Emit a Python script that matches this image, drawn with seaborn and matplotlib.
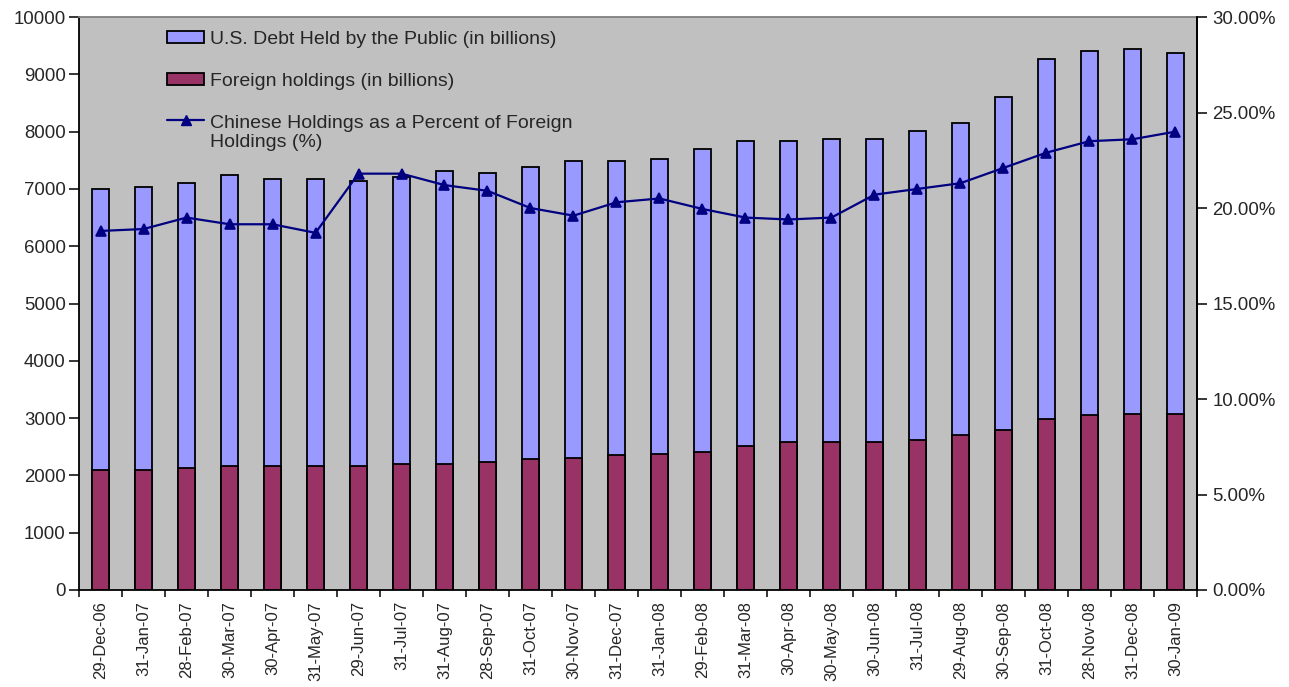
import matplotlib
matplotlib.use("Agg")
import matplotlib.pyplot as plt
import matplotlib.ticker as mticker
from matplotlib.patches import Patch
from matplotlib.lines import Line2D
from matplotlib.legend_handler import HandlerLine2D
import seaborn as sns
import pandas as pd
import numpy as np

dates = ["29-Dec-06", "31-Jan-07", "28-Feb-07", "30-Mar-07", "30-Apr-07", "31-May-07",
         "29-Jun-07", "31-Jul-07", "31-Aug-07", "28-Sep-07", "31-Oct-07", "30-Nov-07",
         "31-Dec-07", "31-Jan-08", "29-Feb-08", "31-Mar-08", "30-Apr-08", "30-May-08",
         "30-Jun-08", "31-Jul-08", "29-Aug-08", "30-Sep-08", "31-Oct-08", "28-Nov-08",
         "31-Dec-08", "30-Jan-09"]
public_debt = [7000, 7030, 7100, 7240, 7170, 7170, 7140, 7210, 7310, 7280, 7380, 7480,
               7480, 7520, 7700, 7840, 7840, 7880, 7880, 8010, 8150, 8610, 9270, 9410,
               9450, 9380]
foreign = [2100, 2100, 2130, 2170, 2170, 2170, 2170, 2200, 2200, 2240, 2280, 2310,
           2350, 2380, 2410, 2520, 2590, 2590, 2590, 2620, 2700, 2800, 2980, 3050,
           3080, 3080]
china_pct = [18.8, 18.9, 19.5, 19.15, 19.15, 18.7, 21.8, 21.8, 21.2, 20.9, 20.0, 19.6,
             20.3, 20.5, 19.95, 19.5, 19.4, 19.5, 20.7, 21.0, 21.3, 22.1, 22.9, 23.5,
             23.6, 24.0]

df = pd.DataFrame({"date": dates, "debt": public_debt, "foreign": foreign, "pct": china_pct})

c_debt = "#9999FF"
c_foreign = "#993366"
c_line = "#000080"


# legend line handle sits on the first text line (like Excel)
class FirstLineHandler(HandlerLine2D):
    def create_artists(self, legend, orig_handle, xdescent, ydescent, width, height,
                       fontsize, trans):
        arts = super().create_artists(legend, orig_handle, xdescent, ydescent, width,
                                      height, fontsize, trans)
        for a in arts:
            a.set_ydata(np.asarray(a.get_ydata()) + fontsize * 0.7)
        return arts


sns.set_style("white")
plt.rcParams["font.family"] = ["Liberation Sans", "DejaVu Sans"]

fig = plt.figure(figsize=(12.89, 6.87), dpi=100)
ax = fig.add_axes([0.0613, 0.1412, 0.8673, 0.834])
ax.set_facecolor("#C0C0C0")

# two overlapping bars, foreign in front of total
sns.barplot(data=df, x="date", y="debt", color=c_debt, width=0.4, saturation=1,
            edgecolor="black", linewidth=1.3, ax=ax)
sns.barplot(data=df, x="date", y="foreign", color=c_foreign, width=0.4, saturation=1,
            edgecolor="black", linewidth=1.3, ax=ax)

ax.set_ylim(0, 10000)
ax.set_xlim(-0.5, len(dates) - 0.5)
ax.yaxis.set_major_locator(mticker.MultipleLocator(1000))
ax.set_xlabel("")
ax.set_ylabel("")
ax.tick_params(axis="y", labelsize=13.4, length=7.5, width=1.3, pad=2, direction="out",
               left=True)
ax.tick_params(axis="x", which="major", length=0, labelsize=12, rotation=90, pad=8)
ax.set_xticks(np.arange(-0.5, len(dates), 1), minor=True)
ax.tick_params(axis="x", which="minor", length=5, width=1.3, direction="out", bottom=True)

for s in ["left", "bottom", "right"]:
    ax.spines[s].set_color("black")
    ax.spines[s].set_linewidth(1.3)
ax.spines["top"].set_color("#808080")
ax.spines["top"].set_linewidth(1.3)

ax2 = ax.twinx()
sns.pointplot(data=df, x="date", y="pct", color=c_line, markers="^", linestyles="-",
              markersize=7, linewidth=1.6, ax=ax2)
ax2.set_ylim(0, 30)
ax2.set_xlim(-0.5, len(dates) - 0.5)
ax2.yaxis.set_major_locator(mticker.MultipleLocator(5))
ax2.yaxis.set_major_formatter(mticker.FuncFormatter(lambda v, p: f"{v:.2f}%"))
ax2.set_ylabel("")
ax2.tick_params(axis="y", labelsize=13.4, length=7, width=1.3, pad=4, direction="out",
                right=True)
ax2.spines["right"].set_color("black")
ax2.spines["right"].set_linewidth(1.3)
ax2.spines["top"].set_visible(False)
ax2.spines["left"].set_visible(False)
ax2.spines["bottom"].set_visible(False)

line_handle = Line2D([], [], color=c_line, marker="^", markersize=7, linewidth=1.6)
handles = [
    Patch(facecolor=c_debt, edgecolor="black", linewidth=1.3),
    Patch(facecolor=c_foreign, edgecolor="black", linewidth=1.3),
    line_handle,
]
labels = ["U.S. Debt Held by the Public (in billions)",
          "Foreign holdings (in billions)",
          "Chinese Holdings as a Percent of Foreign\nHoldings (%)"]
leg = ax2.legend(handles, labels, loc="upper left", bbox_to_anchor=(0.079, 0.976),
                 frameon=False, fontsize=14, handlelength=1.9, handleheight=0.57,
                 handletextpad=0.3, labelspacing=1.3, borderaxespad=0, borderpad=0,
                 handler_map={line_handle: FirstLineHandler()})
for t in leg.get_texts():
    t.set_linespacing(1.15)

fig.savefig("out.png", dpi=100)
